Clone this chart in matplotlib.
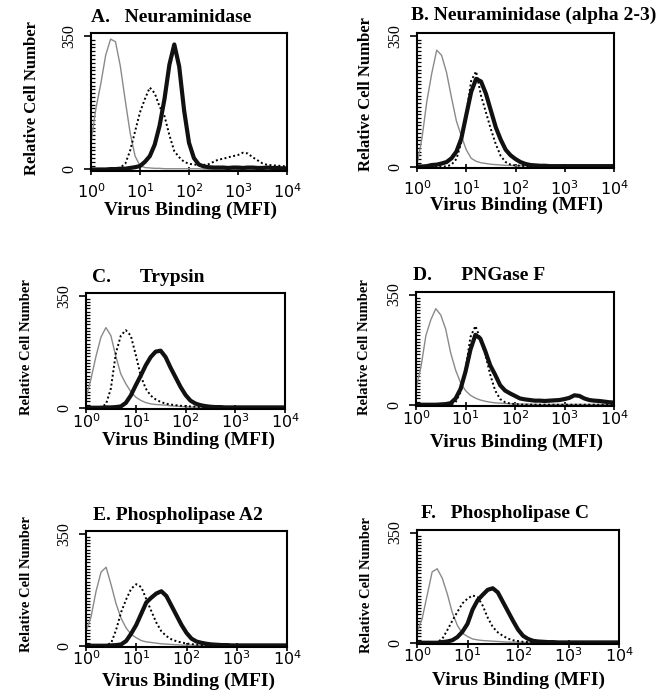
import numpy as np
import matplotlib
matplotlib.use("Agg")
import matplotlib.pyplot as plt
from matplotlib.ticker import LogLocator, MultipleLocator, NullFormatter

plt.rcParams['mathtext.fontset'] = 'custom'
plt.rcParams['mathtext.rm'] = 'Liberation Sans'
plt.rcParams['mathtext.it'] = 'Liberation Sans:italic'
plt.rcParams['mathtext.bf'] = 'Liberation Sans:bold'

FIG_W, FIG_H = 668, 690

# log10 of MFI, shared channel grid for every histogram
LOG_MFI = [0.0, 0.1, 0.2, 0.3, 0.4, 0.5, 0.6, 0.7, 0.8, 0.9,
           1.0, 1.1, 1.2, 1.3, 1.4, 1.5, 1.6, 1.7, 1.8, 1.9,
           2.0, 2.1, 2.2, 2.3, 2.4, 2.5, 2.6, 2.7, 2.8, 2.9,
           3.0, 3.1, 3.2, 3.3, 3.4, 3.5, 3.6, 3.7, 3.8, 3.9,
           4.0]

TITLES = ["A.   Neuraminidase", "B. Neuraminidase (alpha 2-3)",
          "C.      Trypsin", "D.      PNGase F",
          "E. Phospholipase A2", "F.   Phospholipase C"]
X_TICKS = [1, 10, 100, 1000, 10000]
X_TICK_LABELS = [r'$\mathregular{10^{0}}$', r'$\mathregular{10^{1}}$', r'$\mathregular{10^{2}}$',
                 r'$\mathregular{10^{3}}$', r'$\mathregular{10^{4}}$']
Y_TICKS = [0, 350]
X_LABEL = "Virus Binding (MFI)"
Y_LABEL = "Relative Cell Number"

# control cells (thin grey)
grey_A = [70, 160, 225, 300, 342, 335, 270, 180, 95, 35,
          10, 5, 4, 3, 3, 2, 2, 2, 2, 2,
          2, 2, 2, 1, 1, 1, 1, 1, 1, 1,
          1, 1, 1, 1, 1, 1, 1, 1, 1, 1, 1]
grey_B = [5, 75, 175, 250, 312, 298, 252, 185, 122, 82,
          45, 22, 14, 10, 8, 6, 5, 4, 3, 3,
          2, 2, 2, 1, 1, 1, 1, 1, 1, 1,
          1, 1, 1, 1, 1, 1, 1, 1, 1, 1, 1]
grey_C = [30, 90, 160, 220, 250, 225, 160, 105, 75, 50,
          33, 23, 16, 12, 10, 9, 8, 6, 5, 4,
          3, 2, 2, 2, 1, 1, 1, 1, 1, 1,
          1, 1, 1, 1, 1, 1, 1, 1, 1, 1, 1]
grey_D = [50, 120, 220, 270, 305, 285, 240, 165, 110, 70,
          45, 30, 21, 15, 11, 8, 6, 5, 4, 3,
          3, 2, 2, 2, 1, 1, 1, 1, 1, 1,
          1, 1, 1, 1, 1, 1, 1, 1, 1, 1, 1]
grey_E = [45, 90, 170, 230, 245, 190, 130, 85, 55, 35,
          25, 16, 12, 10, 8, 6, 5, 4, 3, 2,
          2, 2, 1, 1, 1, 1, 1, 1, 1, 1,
          1, 1, 1, 1, 1, 1, 1, 1, 1, 1, 1]
grey_F = [35, 75, 150, 225, 235, 205, 155, 95, 55, 30,
          20, 12, 9, 7, 6, 5, 4, 3, 2, 2,
          2, 1, 1, 1, 1, 1, 1, 1, 1, 1,
          1, 1, 1, 1, 1, 1, 1, 1, 1, 1, 1]

# untreated cells + virus (dotted)
dot_A = [0, 0, 0, 0, 0, 2, 5, 15, 50, 100,
         150, 185, 215, 200, 165, 140, 90, 48, 32, 20,
         15, 13, 12, 12, 14, 20, 26, 28, 32, 35,
         38, 44, 42, 32, 24, 16, 12, 11, 10, 9, 8]
dot_B = [0, 0, 0, 0, 0, 0, 0, 5, 20, 65,
         140, 230, 255, 190, 145, 100, 60, 28, 12, 5,
         3, 2, 1, 1, 0, 0, 0, 0, 0, 0,
         0, 0, 0, 0, 0, 0, 0, 0, 0, 0, 0]
dot_C = [0, 0, 0, 3, 10, 60, 170, 225, 242, 225,
         165, 100, 60, 38, 26, 18, 13, 10, 8, 6,
         5, 4, 3, 2, 2, 1, 1, 1, 1, 1,
         1, 1, 1, 1, 1, 1, 1, 1, 1, 1, 1]
dot_D = [0, 0, 0, 0, 0, 0, 0, 0, 8, 40,
         110, 215, 250, 210, 160, 95, 45, 18, 8, 4,
         2, 1, 0, 0, 0, 0, 0, 0, 0, 0,
         0, 0, 0, 0, 0, 0, 0, 0, 0, 0, 0]
dot_E = [0, 0, 0, 0, 2, 8, 50, 105, 145, 178,
         192, 183, 145, 108, 72, 45, 30, 20, 14, 10,
         7, 5, 3, 2, 2, 1, 1, 1, 1, 1,
         1, 1, 1, 1, 1, 1, 1, 1, 1, 1, 1]
dot_F = [0, 0, 0, 0, 2, 12, 40, 70, 98, 125,
         140, 150, 145, 118, 80, 50, 33, 22, 13, 8,
         5, 3, 2, 1, 1, 1, 1, 1, 1, 1,
         1, 1, 1, 1, 1, 1, 1, 1, 1, 1, 1]

# enzyme-treated cells + virus (thick)
thick_A = [0, 0, 0, 0, 1, 1, 2, 2, 4, 6,
           9, 20, 35, 65, 115, 185, 275, 328, 270, 155,
           70, 30, 13, 8, 6, 5, 5, 5, 4, 5,
           5, 4, 5, 5, 4, 4, 5, 4, 4, 3, 3]
thick_B = [0, 0, 1, 4, 5, 8, 12, 22, 40, 75,
           138, 200, 235, 228, 195, 150, 105, 72, 45, 30,
           20, 12, 7, 4, 3, 2, 2, 1, 1, 1,
           1, 1, 1, 1, 1, 1, 1, 1, 1, 1, 1]
thick_C = [0, 0, 0, 0, 1, 1, 2, 4, 15, 38,
           70, 100, 132, 158, 175, 178, 158, 125, 95, 65,
           40, 22, 13, 8, 5, 3, 2, 2, 1, 1,
           1, 1, 1, 1, 1, 1, 1, 1, 1, 1, 1]
thick_D = [0, 0, 0, 0, 0, 1, 2, 5, 20, 50,
           105, 175, 222, 210, 170, 125, 95, 62, 45, 36,
           28, 20, 17, 15, 13, 13, 12, 13, 14, 15,
           18, 22, 30, 28, 20, 15, 13, 12, 10, 8, 7]
thick_E = [0, 0, 0, 0, 0, 1, 2, 4, 15, 38,
           65, 100, 135, 150, 163, 170, 155, 125, 95, 65,
           40, 22, 13, 9, 6, 4, 3, 2, 2, 1,
           1, 1, 1, 1, 1, 1, 1, 1, 1, 1, 1]
thick_F = [0, 0, 0, 0, 0, 2, 4, 8, 18, 35,
           60, 105, 135, 152, 168, 173, 160, 130, 100, 70,
           42, 22, 12, 6, 4, 3, 2, 2, 1, 1,
           1, 1, 1, 1, 1, 1, 1, 1, 1, 1, 1]

GREY = [grey_A, grey_B, grey_C, grey_D, grey_E, grey_F]
DOTTED = [dot_A, dot_B, dot_C, dot_D, dot_E, dot_F]
THICK = [thick_A, thick_B, thick_C, thick_D, thick_E, thick_F]

# layout in pixels: axes box (left, top, right, bottom), title start, xlabel centre, ylabel centre
AX_BOX = [(91, 33, 287, 171), (417, 33, 614, 168),
          (86, 293, 285, 409), (416, 292, 614, 406),
          (86, 531, 287, 647), (417, 530, 619, 644)]
TITLE_POS = [(91, 18), (411, 15), (92, 277), (413, 276), (93, 515), (421, 513)]
XLABEL_POS = [(191, 210), (516, 205), (188, 440), (516, 442), (188, 681), (518, 680)]
YLABEL_POS = [(32, 98), (366, 94), (27, 347), (364, 347), (27, 584), (366, 585)]
YLABEL_SIZE = [12, 12, 10.5, 10.5, 10.5, 10.5]
XTICK_PAD = [5, 5, -0.5, -0.5, -1.5, -1.5]

SERIF = 'Liberation Serif'


def fx(px):
    return px / FIG_W


def fy(py):
    return 1 - py / FIG_H


fig = plt.figure(figsize=(FIG_W / 100, FIG_H / 100), dpi=100)
x = 10 ** np.array(LOG_MFI)

for i in range(6):
    l, t, r, b = AX_BOX[i]
    ax = fig.add_axes([fx(l), fy(b), (r - l) / FIG_W, (b - t) / FIG_H])
    ax.plot(x, GREY[i], color='#8a8a8a', lw=1.0)
    ax.plot(x, DOTTED[i], color='black', lw=1.4, linestyle=(0, (1, 1.3)))
    ax.plot(x, THICK[i], color='#111111', lw=3.0)

    ax.set_xscale('log')
    ax.set_xlim(1, 1e4)
    ax.set_ylim(-4, 358)
    ax.set_xticks(X_TICKS)
    ax.set_xticklabels(X_TICK_LABELS, fontsize=11.5)
    ax.xaxis.set_minor_locator(LogLocator(base=10, subs=np.arange(2, 10)))
    ax.xaxis.set_minor_formatter(NullFormatter())
    ax.tick_params(axis='x', which='major', direction='inout', length=6, width=1.2,
                   pad=XTICK_PAD[i])
    ax.tick_params(axis='x', which='minor', direction='in', length=3, width=0.9)

    ax.set_yticks(Y_TICKS)
    ax.set_yticklabels([str(v) for v in Y_TICKS], rotation=90, va='center',
                       fontfamily=SERIF, fontsize=11.5)
    ax.yaxis.set_minor_locator(MultipleLocator(10))
    ax.tick_params(axis='y', which='major', direction='out', length=5, width=1.2, pad=5)
    ax.tick_params(axis='y', which='minor', direction='in', length=3, width=0.9)
    for s in ax.spines.values():
        s.set_linewidth(1.5)

    tx, ty = TITLE_POS[i]
    fig.text(fx(tx), fy(ty), TITLES[i], ha='left', va='center',
             fontfamily=SERIF, fontweight='bold', fontsize=14)
    lx, ly = XLABEL_POS[i]
    fig.text(fx(lx), fy(ly), X_LABEL, ha='center', va='center',
             fontfamily=SERIF, fontweight='bold', fontsize=14)
    yx, yy = YLABEL_POS[i]
    fig.text(fx(yx), fy(yy), Y_LABEL, ha='center', va='center', rotation=90,
             fontfamily=SERIF, fontweight='bold', fontsize=YLABEL_SIZE[i])

fig.savefig('out.png', dpi=100)
